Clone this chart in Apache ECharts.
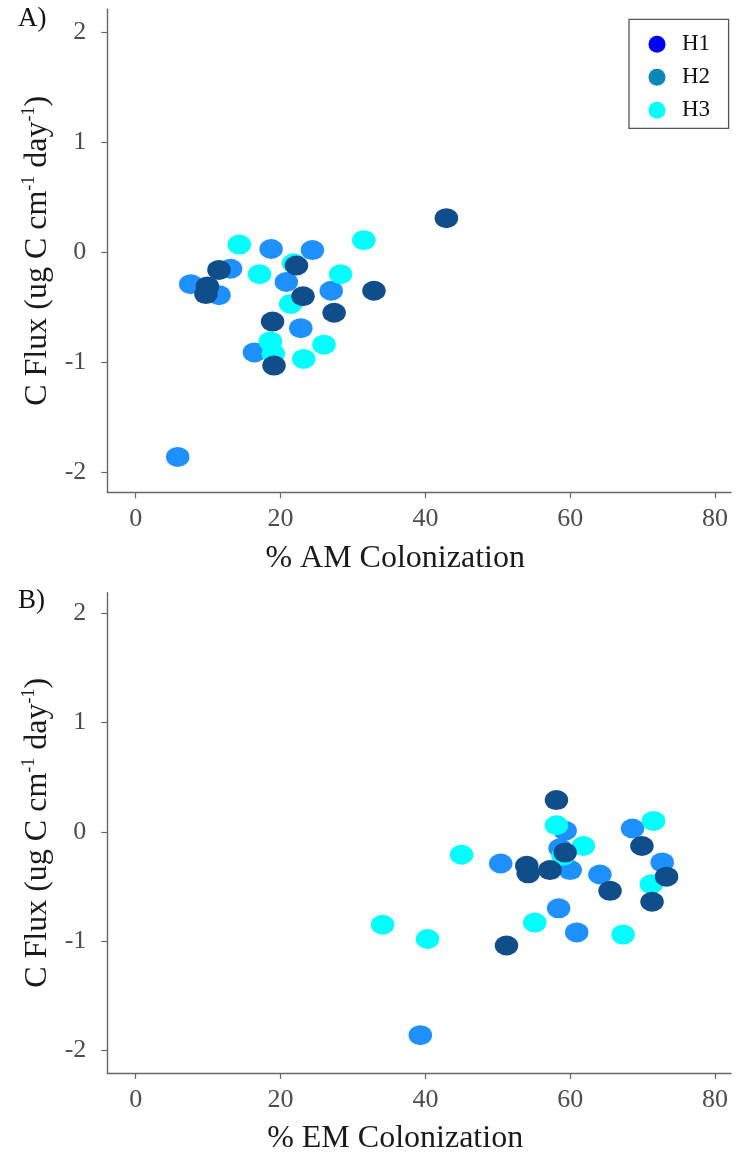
<!DOCTYPE html>
<html>
<head>
<meta charset="utf-8">
<script src="https://cdn.jsdelivr.net/npm/echarts@6/dist/echarts.min.js"></script>
<style>
  html, body { margin: 0; padding: 0; background: #ffffff; }
  #chart { width: 741px; height: 1156px; }
</style>
</head>
<body>
<div id="chart"></div>
<script>
// Habitat groups and their colours
const groups = ['H1', 'H2', 'H3'];
const pointColors = ['#104E8B', '#1E90FF', '#00FFFF'];
const legendColors = ['#0000FF', '#0A88B8', '#00FFFF'];

// Axis tick positions
const xTicks = [0, 20, 40, 60, 80];
const yTicks = [-2, -1, 0, 1, 2];

// Panel A: % AM colonization vs C flux (ug C cm-1 day-1)
const amH1 = [[42.9, 0.31], [22.2, -0.12], [11.5, -0.16], [9.9, -0.31], [9.7, -0.38],
              [32.9, -0.35], [23.1, -0.40], [27.4, -0.55], [18.9, -0.63], [19.1, -1.03]];
const amH2 = [[18.7, 0.03], [24.4, 0.02], [13.1, -0.15], [7.6, -0.29], [11.5, -0.39],
              [20.8, -0.27], [27.0, -0.35], [22.8, -0.69], [16.4, -0.91], [5.8, -1.86]];
const amH3 = [[14.3, 0.07], [31.5, 0.11], [17.1, -0.20], [28.3, -0.20], [21.8, -0.10],
              [21.4, -0.47], [18.6, -0.81], [19.0, -0.92], [23.2, -0.97], [26.0, -0.84]];

// Panel B: % EM colonization vs C flux (ug C cm-1 day-1)
const emH1 = [[58.1, 0.29], [69.9, -0.13], [59.3, -0.19], [54.0, -0.31], [54.2, -0.38],
              [57.2, -0.35], [73.3, -0.41], [65.5, -0.54], [71.3, -0.64], [51.2, -1.04]];
const emH2 = [[59.3, 0.01], [68.6, 0.03], [58.6, -0.15], [50.4, -0.29], [60.0, -0.35],
              [64.1, -0.39], [72.7, -0.28], [58.4, -0.70], [60.9, -0.92], [39.3, -1.86]];
const emH3 = [[71.5, 0.10], [58.1, 0.06], [61.8, -0.13], [45.0, -0.21], [59.0, -0.22],
              [71.2, -0.48], [34.1, -0.85], [40.3, -0.98], [55.1, -0.83], [67.3, -0.94]];

const SERIF = '"Liberation Serif", "DejaVu Serif", serif';
const AXIS_COLOR = '#666666';

function xAxisFor(gridIndex, title) {
  return {
    type: 'value', gridIndex: gridIndex,
    min: -3.92, max: 82.2,
    name: title, nameLocation: 'middle', nameGap: 50,
    nameTextStyle: { fontFamily: SERIF, fontSize: 32, color: '#1a1a1a', padding: [0, 48, 0, 0] },
    axisLine: { onZero: false, lineStyle: { color: AXIS_COLOR, width: 1.4 } },
    axisTick: { customValues: xTicks, length: 6, lineStyle: { color: AXIS_COLOR, width: 1.2 } },
    axisLabel: { customValues: xTicks, margin: 14, fontFamily: SERIF, fontSize: 26, color: '#4d4d4d' },
    splitLine: { show: false }
  };
}

function yAxisFor(gridIndex, min, max) {
  return {
    type: 'value', gridIndex: gridIndex,
    min: min, max: max,
    name: '{a|C Flux (ug C cm}{s|-1}{a| day}{s|-1}{a|)}',
    nameLocation: 'middle', nameGap: 48, nameRotate: 90,
    nameTextStyle: {
      rich: {
        a: { fontFamily: SERIF, fontSize: 32, color: '#1a1a1a', lineHeight: 34, verticalAlign: 'middle' },
        s: { fontFamily: SERIF, fontSize: 18, color: '#1a1a1a', lineHeight: 18, verticalAlign: 'top' }
      }
    },
    axisLine: { onZero: false, lineStyle: { color: AXIS_COLOR, width: 1.4 } },
    axisTick: { customValues: yTicks, length: 6, lineStyle: { color: AXIS_COLOR, width: 1.2 } },
    axisLabel: { customValues: yTicks, margin: 21, fontFamily: SERIF, fontSize: 26, color: '#4d4d4d' },
    splitLine: { show: false }
  };
}

function scatter(name, data, colorIdx, gridIdx, z) {
  return {
    type: 'scatter', name: name, data: data,
    xAxisIndex: gridIdx, yAxisIndex: gridIdx,
    symbol: 'circle', symbolSize: [23.5, 20], z: z,
    itemStyle: { color: pointColors[colorIdx], opacity: 1 },
    emphasis: { disabled: true }
  };
}

const chart = echarts.init(document.getElementById('chart'), null, { renderer: 'canvas' });

chart.setOption({
  animation: false,
  backgroundColor: '#ffffff',
  grid: [
    { left: 107.3, top: 9.3, width: 623.7, height: 483 },
    { left: 107.3, top: 592.7, width: 623.7, height: 484.3 }
  ],
  xAxis: [xAxisFor(0, '% AM Colonization'), xAxisFor(1, '% EM Colonization')],
  yAxis: [yAxisFor(0, -2.182, 2.209), yAxisFor(1, -2.206, 2.187)],
  legend: {
    orient: 'vertical',
    left: 629, top: 19.3,
    padding: [13, 18.5, 6, 19.5],
    itemGap: 9,
    itemWidth: 40, itemHeight: 17,
    icon: 'circle',
    borderColor: '#555555', borderWidth: 1.3,
    textStyle: { fontFamily: SERIF, fontSize: 23, color: '#111111', lineHeight: 24 },
    selectedMode: false,
    data: groups.map((g, i) => ({ name: g, itemStyle: { color: legendColors[i] } }))
  },
  graphic: [
    { type: 'text', left: 18, top: 5, style: { text: 'A)', fontFamily: SERIF, fontSize: 27, fill: '#111111' } },
    { type: 'text', left: 18, top: 587, style: { text: 'B)', fontFamily: SERIF, fontSize: 27, fill: '#111111' } }
  ],
  series: [
    scatter('H2', amH2, 1, 0, 2),
    scatter('H3', amH3, 2, 0, 3),
    scatter('H1', amH1, 0, 0, 4),
    scatter('H2', emH2, 1, 1, 2),
    scatter('H3', emH3, 2, 1, 3),
    scatter('H1', emH1, 0, 1, 4)
  ]
});
</script>
</body>
</html>
